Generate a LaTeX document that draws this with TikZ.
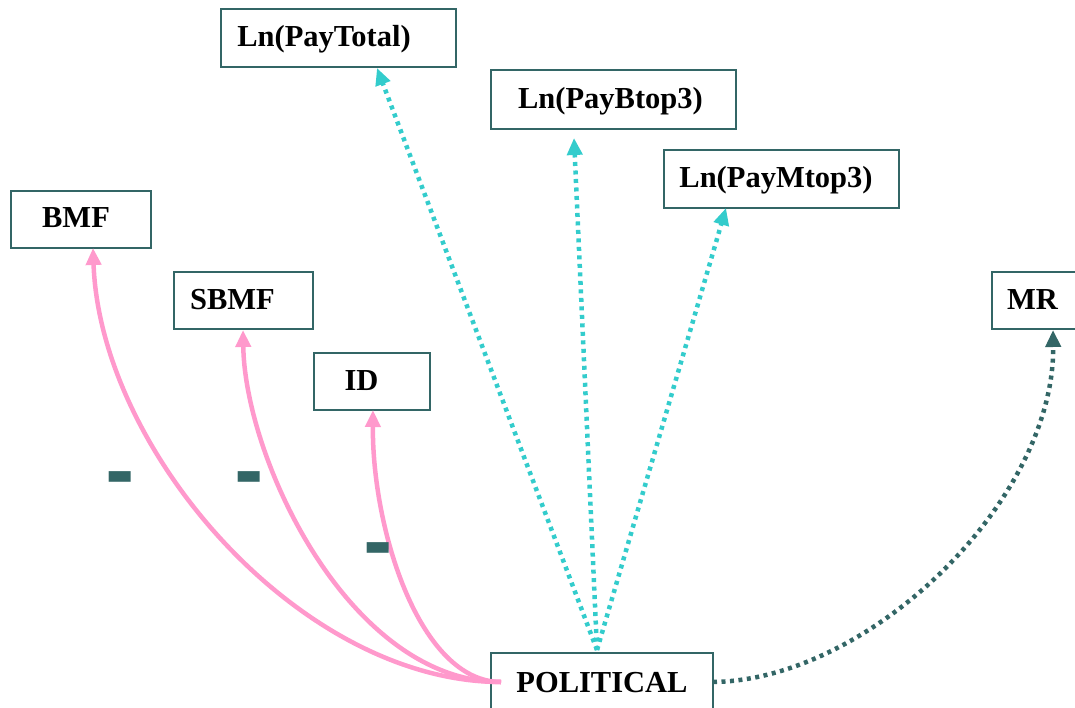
\documentclass[tikz,border=0pt]{standalone}
\usepackage{fontspec}
\setmainfont{Liberation Serif}
\usetikzlibrary{arrows.meta}
\definecolor{cyanl}{HTML}{33CCCC}
\definecolor{pinkl}{HTML}{FF99CC}
\definecolor{tealb}{HTML}{336666}
\tikzset{
  box/.style={draw=tealb, line width=2pt, fill=white, inner sep=0pt},
  lbl/.style={anchor=base, inner sep=0pt, font=\fontsize{30.5}{36}\selectfont\bfseries},
  tip/.style={-{Triangle[length=17pt,width=15pt]}},
  cyanarr/.style={tip, draw=cyanl, line width=4.5pt, dash pattern=on 4pt off 4.5pt},
  pinkarr/.style={tip, draw=pinkl, line width=4.5pt},
  tealarr/.style={tip, draw=tealb, line width=4.5pt, dash pattern=on 4pt off 4.5pt},
  minus/.style={text=tealb, inner sep=0pt, font=\fontsize{30.5}{36}\selectfont\bfseries}
}
\begin{document}
\begin{tikzpicture}[x=1pt,y=-1pt]
\useasboundingbox (0,0) rectangle (1075,708);
% boxes
\node[box, minimum width=235pt, minimum height=58pt] (tot) at (338.5,38) {};
\node[box, minimum width=245pt, minimum height=59pt] (btop) at (613,99.5) {};
\node[box, minimum width=235pt, minimum height=58pt] (mtop) at (781.5,179) {};
\node[box, minimum width=140pt, minimum height=57pt] (bmf) at (81,219.5) {};
\node[box, minimum width=139pt, minimum height=57pt] (sbmf) at (243.5,300.5) {};
\node[box, minimum width=116pt, minimum height=57pt] (id) at (372,381.5) {};
\node[box, minimum width=86pt, minimum height=57pt] (mr) at (1035,300.5) {};
\node[box, minimum width=222pt, minimum height=58pt] (pol) at (602,682) {};
% labels
\node[lbl] (totl) at (324,47) {Ln(PayTotal)};
\node[lbl] (btopl) at (610.5,109) {Ln(PayBtop3)};
\node[lbl] (mtopl) at (776,188) {Ln(PayMtop3)};
\node[lbl] (bmfl) at (76,228) {BMF};
\node[lbl] (sbmfl) at (232.5,309) {SBMF};
\node[lbl] (idl) at (361.5,390) {ID};
\node[lbl] (mrl) at (1032.5,309) {MR};
\node[lbl] (poll) at (602,692) {POLITICAL};
% endpoints
\coordinate (src) at (597,650);
\coordinate (tTot) at (377,68);
\coordinate (tBtop) at (574,138);
\coordinate (tMtop) at (726,208);
\coordinate (srcL) at (501,682);
\coordinate (tBmf) at (93,248);
\coordinate (tSbmf) at (243,330);
\coordinate (tId) at (373,410);
\coordinate (srcR) at (713,682);
\coordinate (tMr) at (1053,330);
% connectors
\draw[cyanarr] (src) -- (tTot);
\draw[cyanarr] (src) -- (tBtop);
\draw[cyanarr] (src) -- (tMtop);
\draw[pinkarr] (srcL) .. controls (300,682) and (100,450) .. (tBmf);
\draw[pinkarr] (srcL) .. controls (350,682) and (245,460) .. (tSbmf);
\draw[pinkarr] (srcL) .. controls (420,682) and (372,530) .. (tId);
\draw[tealarr] (srcR) .. controls (870,680) and (1055,500) .. (tMr);
% edge labels
\node[minus] (m1) at (120,492) {\scalebox{1.4}[5]{–}};
\node[minus] (m2) at (249,492) {\scalebox{1.4}[5]{–}};
\node[minus] (m3) at (378,563) {\scalebox{1.4}[5]{–}};
\end{tikzpicture}
\end{document}
